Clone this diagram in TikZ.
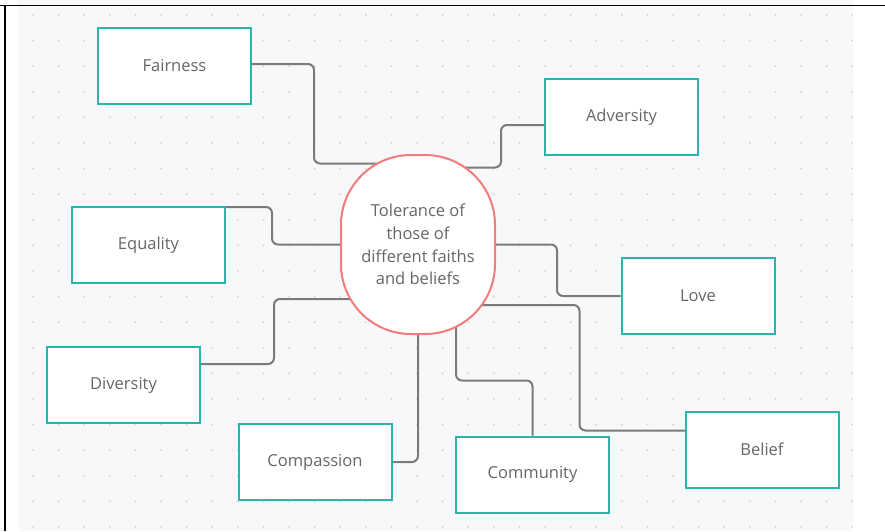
\documentclass[tikz,border=0pt]{standalone}
\usepackage{fontspec}
\setmainfont{Open Sans}
\definecolor{boxline}{HTML}{2BB3AC}
\definecolor{hubline}{HTML}{F27B7B}
\definecolor{linkgray}{HTML}{7B7B7B}
\definecolor{textgray}{HTML}{666666}
\definecolor{sheet}{HTML}{F8F8FA}
\definecolor{dotgray}{HTML}{D9D9DD}
\pgfdeclarelayer{paper}
\pgfdeclarelayer{links}
\pgfsetlayers{paper,links,main}

\begin{document}
\begin{tikzpicture}
  [x=1pt, y=-1pt,
   every node/.style={font=\fontsize{16.5}{22.7}\selectfont, text=textgray},
   topic/.style={draw=boxline, line width=2pt, fill=white, minimum width=153pt, minimum height=76pt, inner sep=0pt},
   hub/.style={draw=hubline, line width=2pt, fill=white, rounded corners=70pt, minimum width=154pt, minimum height=179pt, align=center, inner sep=0pt},
   link/.style={draw=linkgray, line width=2pt, rounded corners=6pt}]
  \useasboundingbox (0,0) rectangle (885,531);
  \begin{pgfonlayer}{paper}
    \fill[sheet] (18,0) rectangle (853,531);
    \foreach \i in {0,...,32}
      \foreach \j in {0,...,20}
        \fill[dotgray] (33+25.6*\i, 15+25.6*\j) circle (1.2pt);
    \draw[line width=1pt] (0,5) -- (885,5);
    \draw[line width=2.5pt] (5,5) -- (5,531);
  \end{pgfonlayer}
  \node[hub] (tol) at (418,244.5) {Tolerance of\\those of\\different faiths\\and beliefs};
  \node[topic] (fair) at (174.5,66) {Fairness};
  \node[topic] (adv) at (621.5,117) {Adversity};
  \node[topic] (equal) at (148.5,245) {Equality};
  \node[topic] (love) at (698,296) {Love};
  \node[topic] (div) at (123.5,385) {Diversity};
  \node[topic] (comp) at (315,462) {Compassion};
  \node[topic] (comm) at (532.5,474.5) {Community};
  \node[topic] (belief) at (762,449.5) {Belief};
  \begin{pgfonlayer}{links}
    \draw[link] ([yshift=2pt]fair.east) -- ++(62,0) |- ([yshift=81pt]tol.center);
    \draw[link] ([yshift=-8pt]adv.west) -- ++(-43,0) |- ([yshift=77pt]tol.center);
    \draw[link] ([yshift=-1pt]equal.north east) -- ++(46,0) |- (tol.center);
    \draw[link] (tol.center) -- ++(139,0) |- (love.west);
    \draw[link] ([yshift=21pt]div.east) -- ++(73,0) |- ([yshift=-54.5pt]tol.center);
    \draw[link] (comp.east) -| (tol.center);
    \draw[link] (comm.north) -- ++(0,-55) -| ([xshift=38pt]tol.center);
    \draw[link] ([yshift=19pt]belief.west) -- ++(-5,0) -- ++(-100,0) |- ([yshift=-60.5pt]tol.center);
  \end{pgfonlayer}
\end{tikzpicture}
\end{document}
